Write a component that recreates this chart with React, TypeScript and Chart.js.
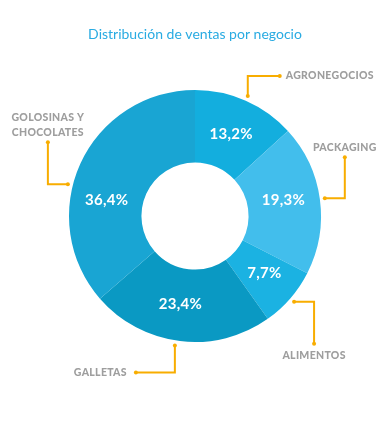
import { useEffect, useRef } from "react";
import { Chart, registerables } from "chart.js";

Chart.register(...registerables);

const titleText = "Distribución de ventas por negocio";
const categories = ["AGRONEGOCIOS", "PACKAGING", "ALIMENTOS", "GALLETAS", "GOLOSINAS Y\nCHOCOLATES"];
const shares = [13.2, 19.3, 7.7, 23.4, 36.4];
const sliceColors = ["#13AEDE", "#42BEEC", "#1BB2E2", "#0A99C3", "#19A5D3"];

// Style of each leader line (two legs, in px) and where its label goes
const leaderStyles = [
  { legs: [[0, -20], [32, 0]], place: "right", shift: 0 },
  { legs: [[20, 0], [0, -41]], place: "above", shift: 0 },
  { legs: [[20, 0], [0, 42]], place: "below", shift: 0 },
  { legs: [[0, 27], [-39, 0]], place: "left", shift: 2 },
  { legs: [[-20, 0], [0, -42]], place: "above", shift: -10.5 },
];
const valueLabelShift = [0, -2.5, -1.5, 2.5, -14];

const ORANGE = "#F8AD00";
const GRAY = "#9E9E9E";

const labelsPlugin = {
  id: "customLabels",
  afterDatasetsDraw(chart: any) {
    const ctx = chart.ctx;
    const meta = chart.getDatasetMeta(0);
    meta.data.forEach((arc: any, i: number) => {
      const { x, y, startAngle, endAngle, innerRadius, outerRadius } = arc.getProps(
        ["x", "y", "startAngle", "endAngle", "innerRadius", "outerRadius"],
        true
      );
      const mid = (startAngle + endAngle) / 2;
      // value label
      const a = mid + (valueLabelShift[i] * Math.PI) / 180;
      const rr = (innerRadius + outerRadius) / 2;
      ctx.save();
      ctx.fillStyle = "#FFFFFF";
      ctx.font = "bold 15px Lato";
      (ctx as any).letterSpacing = "0.3px";
      ctx.textAlign = "center";
      ctx.textBaseline = "middle";
      ctx.fillText(shares[i].toFixed(1).replace(".", ",") + "%", x + Math.cos(a) * rr, y + Math.sin(a) * rr);
      ctx.restore();

      // leader line
      const st = leaderStyles[i];
      const la = mid + (st.shift * Math.PI) / 180;
      const r0 = outerRadius + 5;
      const p0 = [x + Math.cos(la) * r0, y + Math.sin(la) * r0];
      const p1 = [p0[0] + st.legs[0][0], p0[1] + st.legs[0][1]];
      const p2 = [p1[0] + st.legs[1][0], p1[1] + st.legs[1][1]];
      ctx.save();
      ctx.strokeStyle = ORANGE;
      ctx.fillStyle = ORANGE;
      ctx.lineWidth = 2;
      ctx.beginPath();
      ctx.moveTo(p0[0], p0[1]);
      ctx.lineTo(p1[0], p1[1]);
      ctx.lineTo(p2[0], p2[1]);
      ctx.stroke();
      [p0, p2].forEach((p) => {
        ctx.beginPath();
        ctx.arc(p[0], p[1], 2, 0, Math.PI * 2);
        ctx.fill();
      });
      ctx.restore();

      // category label
      ctx.save();
      ctx.fillStyle = GRAY;
      ctx.font = "900 10.5px Lato";
      (ctx as any).letterSpacing = "0.3px";
      ctx.textBaseline = "middle";
      const lines = categories[i].split("\n");
      const lh = 15;
      lines.forEach((ln, k) => {
        let tx = p2[0];
        let ty = p2[1];
        if (st.place === "right") {
          ctx.textAlign = "left";
          tx += 6;
          ty += (k - (lines.length - 1) / 2) * lh;
        } else if (st.place === "left") {
          ctx.textAlign = "right";
          tx -= 9;
          ty += (k - (lines.length - 1) / 2) * lh;
        } else if (st.place === "above") {
          ctx.textAlign = "center";
          ty = ty - 10 - (lines.length - 1 - k) * lh;
        } else {
          ctx.textAlign = "center";
          ty = ty + 12 + k * lh;
        }
        ctx.fillText(ln, tx, ty);
      });
      ctx.restore();
    });
  },
};

export default function App() {
  const ref = useRef<HTMLCanvasElement | null>(null);
  useEffect(() => {
    if (!ref.current) return;
    const chart = new Chart(ref.current, {
      type: "doughnut",
      data: {
        labels: categories,
        datasets: [
          {
            data: shares,
            backgroundColor: sliceColors,
            borderWidth: 0,
          },
        ],
      },
      options: {
        responsive: false,
        animation: false,
        cutout: "42.5%",
        layout: { padding: { top: 0, left: 69, right: 70, bottom: 99 } },
        plugins: {
          legend: { display: false },
          tooltip: { enabled: false },
          title: {
            display: true,
            text: titleText,
            color: "#29ABE2",
            font: { family: "Lato", size: 14, weight: "normal", lineHeight: 1.2 },
            padding: { top: 25.6, bottom: 47.6 },
          },
        },
      },
      plugins: [labelsPlugin],
    });
    return () => chart.destroy();
  }, []);
  return (
    <div style={{ position: "fixed", left: 0, top: 0, width: 391, height: 441, background: "#fff" }}>
      <canvas ref={ref} width={391} height={441} style={{ display: "block" }} />
    </div>
  );
}
